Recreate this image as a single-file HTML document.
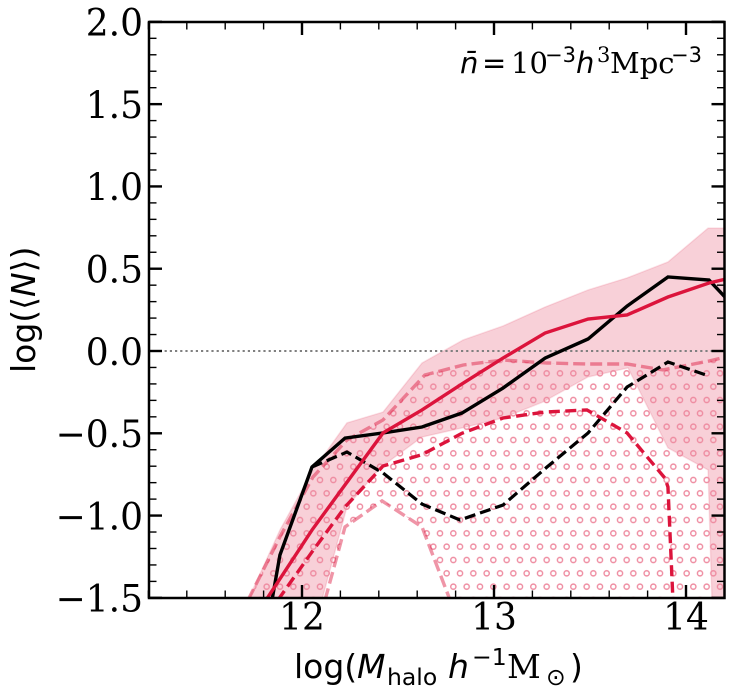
<!DOCTYPE html>
<html>
<head>
<meta charset="utf-8">
<style>
html,body{margin:0;padding:0;background:#fff;}
svg{display:block;}
.serif{font-family:"DejaVu Serif","Liberation Serif",serif;}
.sans{font-family:"DejaVu Sans","Liberation Sans",sans-serif;}
</style>
</head>
<body>
<svg id="chart" xmlns="http://www.w3.org/2000/svg" width="732" height="698" viewBox="0 0 732 698">
  <defs>
    <clipPath id="plot-clip"><rect x="149" y="22" width="575.5" height="576"></rect></clipPath>
    <pattern id="hatch-o" patternUnits="userSpaceOnUse" width="13.3333" height="26.6667" patternTransform="translate(-3.3333,-6.6667)">
      <circle cx="3.3333" cy="6.6667" r="2.6" fill="none" stroke="#ee8ba0" stroke-width="1.4"></circle>
      <circle cx="10" cy="20" r="2.6" fill="none" stroke="#ee8ba0" stroke-width="1.4"></circle>
    </pattern>
  </defs>
  <rect x="0" y="0" width="732" height="698" fill="#ffffff"></rect>
  <g id="marks" clip-path="url(#plot-clip)"></g>
  <g id="ticks"></g>
  <rect x="149" y="22" width="575.5" height="576" fill="none" stroke="#000" stroke-width="2.5"></rect>
  <g id="tick-labels" class="serif" font-size="37.5" fill="#000"></g>

  <text class="sans" font-size="33" fill="#000" y="678">
    <tspan x="294">log(</tspan><tspan x="357" font-style="italic">M</tspan><tspan x="387" y="685" font-size="23.5">halo</tspan><tspan x="448" y="678" font-style="italic">h</tspan><tspan x="472" y="665" font-size="23.5">−1</tspan><tspan x="507" y="678" font-family="DejaVu Serif">M</tspan><tspan x="546" y="685" font-size="23.5">⊙</tspan><tspan x="570" y="678">)</tspan>
  </text>
  <text class="sans" font-size="33" fill="#000" transform="translate(35,373) rotate(-90)">log(⟨<tspan font-style="italic">N</tspan>⟩)</text>
  <text class="serif" font-size="29" fill="#000" y="73">
    <tspan x="460" font-family="DejaVu Sans" font-style="italic">n̄</tspan><tspan x="482" font-family="DejaVu Sans">=</tspan><tspan x="511">10</tspan><tspan x="545" y="62" font-size="21" font-family="DejaVu Sans">−3</tspan><tspan x="576" y="73" font-family="DejaVu Sans" font-style="italic">h</tspan><tspan x="597" y="62" font-size="21">3</tspan><tspan x="610" y="73">Mpc</tspan><tspan x="671" y="62" font-size="21" font-family="DejaVu Sans">−3</tspan>
  </text>
</svg>
<script>
// ---- data (log halo mass, log <N>) ----
var bandUpperMass = [11.719,11.885,12.052,12.234,12.422,12.625,12.839,13.047,13.266,13.49,13.693,13.906,14.115,14.208];
var bandUpperN    = [-1.513,-1.088,-0.735,-0.437,-0.371,-0.073,0.067,0.152,0.267,0.371,0.444,0.541,0.747,0.747];
var bandLowerMass = [12.104,12.234,12.406,12.625,12.833,13.047,13.255,13.49,13.698,13.906,14.115,14.135,14.208];
var bandLowerN    = [-1.513,-0.948,-0.711,-0.523,-0.468,-0.407,-0.31,-0.158,-0.103,-0.589,-0.723,-1.513,-1.513];

var pinkUpperMass = [11.719,11.885,12.057,12.234,12.422,12.64,12.84,13.047,13.276,13.49,13.693,13.88,14.12,14.208];
var pinkUpperN    = [-1.513,-1.13,-0.766,-0.541,-0.419,-0.146,-0.085,-0.055,-0.073,-0.079,-0.079,-0.115,-0.061,-0.036];
var pinkLowerMass = [12.12,12.224,12.417,12.625,12.771];
var pinkLowerN    = [-1.513,-1.069,-0.911,-1.069,-1.513];

var blackSolidMass = [11.844,11.885,12.052,12.224,12.422,12.625,12.833,13.047,13.266,13.49,13.693,13.906,14.12,14.208];
var blackSolidN    = [-1.513,-1.24,-0.705,-0.529,-0.498,-0.462,-0.377,-0.225,-0.043,0.073,0.273,0.45,0.431,0.322];
var redSolidMass = [11.792,12.052,12.422,12.625,12.833,13.047,13.266,13.49,13.693,13.906,14.12,14.208];
var redSolidN    = [-1.55,-1.088,-0.498,-0.358,-0.2,-0.043,0.109,0.194,0.219,0.328,0.413,0.437];
var redDashedMass = [11.875,12.052,12.224,12.422,12.625,12.833,13.047,13.266,13.484,13.693,13.89,13.906,13.932];
var redDashedN    = [-1.513,-1.221,-0.948,-0.699,-0.63,-0.5,-0.407,-0.371,-0.358,-0.498,-0.772,-0.826,-1.513];
var blackDashedMass = [12.052,12.234,12.422,12.625,12.823,13.047,13.276,13.49,13.693,13.906,14.12];
var blackDashedN    = [-0.705,-0.614,-0.741,-0.93,-1.027,-0.936,-0.705,-0.498,-0.219,-0.067,-0.152];

var xMajorTicks = [12,13,14];
var xMajorLabels = ['12','13','14'];
var xMinorTicks = [11.2,11.4,11.6,11.8,12.2,12.4,12.6,12.8,13.2,13.4,13.6,13.8,14.2];
var yMajorTicks = [-1.5,-1,-0.5,0,0.5,1,1.5,2];
var yMajorLabels = ['−1.5','−1.0','−0.5','0.0','0.5','1.0','1.5','2.0'];
var yMinorTicks = [-1.4,-1.3,-1.2,-1.1,-0.9,-0.8,-0.7,-0.6,-0.4,-0.3,-0.2,-0.1,0.1,0.2,0.3,0.4,0.6,0.7,0.8,0.9,1.1,1.2,1.3,1.4,1.6,1.7,1.8,1.9];
var referenceLevel = [0];

// ---- axis functions ----
var PLOT_BOTTOM = 598;
var PLOT_TOP = 22;
var PLOT_LEFT = 149;
var PLOT_RIGHT = 724.5;
function xScale(m){ return 302 + (m - 12) * 192; }
function yScale(n){ return 351 - n * 164.57; }

var NS = 'http://www.w3.org/2000/svg';
function make(tag, parent, props){
  var el = document.createElementNS(NS, tag);
  for (var k in props) { el.setAttribute(k, props[k]); }
  parent.appendChild(el);
  return el;
}
function pts(ms, ns){
  return ms.map(function(m, i){ return xScale(m).toFixed(2) + ',' + yScale(ns[i]).toFixed(2); });
}
function rev(a){ return a.slice().reverse(); }

var marks = document.getElementById('marks');
var ticks = document.getElementById('ticks');
var labels = document.getElementById('tick-labels');

// shaded band
var bandPts = pts(bandUpperMass, bandUpperN).concat(pts(rev(bandLowerMass), rev(bandLowerN)));
var band = make('polygon', marks, {points: bandPts.join(' '), fill: '#dc143c', 'fill-opacity': 0.2, stroke: '#dc143c', 'stroke-opacity': 0.12, 'stroke-width': 1.5});



// hatched region between the pink dashed curves
var hatchPts = pts(pinkUpperMass, pinkUpperN)
  .concat(pts([pinkUpperMass[pinkUpperMass.length - 1]], [-1.6]))
  .concat(pts(rev(pinkLowerMass), rev(pinkLowerN)));
var hatch = make('polygon', marks, {points: hatchPts.join(' '), fill: 'url(#hatch-o)', stroke: 'none'});



// reference line
var zeroLine = make('line', marks, {x1: PLOT_LEFT, x2: PLOT_RIGHT, y1: yScale(referenceLevel[0]), y2: yScale(referenceLevel[0]), stroke: '#808080', 'stroke-width': 2, 'stroke-dasharray': '2.2 3'});



// curves
function curve(ms, ns, color, dash, width, alpha){
  var props = {points: pts(ms, ns).join(' '), fill: 'none', stroke: color, 'stroke-width': width, 'stroke-linejoin': 'miter', 'stroke-opacity': alpha};
  if (dash) { props['stroke-dasharray'] = dash; }
  return make('polyline', marks, props);
}
var pinkUp = curve(pinkUpperMass, pinkUpperN, '#dc143c', '12 5', 3.4, 0.45);


var pinkLow = curve(pinkLowerMass, pinkLowerN, '#dc143c', '12 5', 3.4, 0.45);


var blackDash = curve(blackDashedMass, blackDashedN, '#000000', '11 5', 3.2, 1);


var redDash = curve(redDashedMass, redDashedN, '#dc143c', '11 5.5', 3.4, 1);


var blackLine = curve(blackSolidMass, blackSolidN, '#000000', null, 3.4, 1);


var redLine = curve(redSolidMass, redSolidN, '#dc143c', null, 3.4, 1);



// ticks
function tickLine(x1, y1, x2, y2, w){
  return make('line', ticks, {x1: x1, y1: y1, x2: x2, y2: y2, stroke: '#000', 'stroke-width': w});
}
xMajorTicks.forEach(function(v){
  var x = xScale(v);
  var b = tickLine(x, PLOT_BOTTOM, x, PLOT_BOTTOM - 13, 2.4);
  
  
  var t = tickLine(x, PLOT_TOP, x, PLOT_TOP + 13, 2.4);
  
  
});
xMinorTicks.forEach(function(v){
  var x = xScale(v);
  var b = tickLine(x, PLOT_BOTTOM, x, PLOT_BOTTOM - 7.5, 1.4);
  
  
  var t = tickLine(x, PLOT_TOP, x, PLOT_TOP + 7.5, 1.4);
  
  
});
yMajorTicks.forEach(function(v){
  var y = yScale(v);
  var l = tickLine(PLOT_LEFT, y, PLOT_LEFT + 13, y, 2.4);
  
  
  var r = tickLine(PLOT_RIGHT, y, PLOT_RIGHT - 13, y, 2.4);
  
  
});
yMinorTicks.forEach(function(v){
  var y = yScale(v);
  var l = tickLine(PLOT_LEFT, y, PLOT_LEFT + 7.5, y, 1.4);
  
  
  var r = tickLine(PLOT_RIGHT, y, PLOT_RIGHT - 7.5, y, 1.4);
  
  
});

// tick labels (slightly condensed to match the tall, narrow digits of the figure)
xMajorTicks.forEach(function(v, i){
  var t = make('text', labels, {transform: 'translate(' + xScale(v) + ',629.5) scale(0.96,1)', 'text-anchor': 'middle'});
  t.textContent = xMajorLabels[i];
  
  
});
yMajorTicks.forEach(function(v, i){
  var t = make('text', labels, {transform: 'translate(143,' + (yScale(v) + 13.8) + ') scale(0.96,1)', 'text-anchor': 'end'});
  t.textContent = yMajorLabels[i];
  
  
});
</script>
</body>
</html>
